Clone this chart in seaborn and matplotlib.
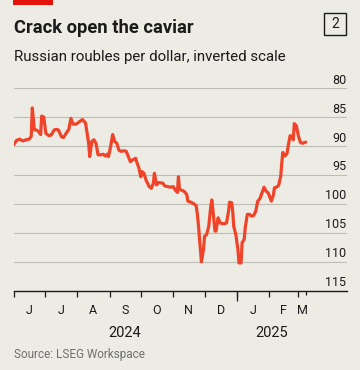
import matplotlib
matplotlib.use("Agg")
import numpy as np
import pandas as pd
import matplotlib.pyplot as plt
import seaborn as sns
from matplotlib import transforms
from matplotlib.patches import Rectangle

# ---------------- data ----------------
title = "Crack open the caviar"
subtitle = "Russian roubles per dollar, inverted scale"
source = "Source: LSEG Workspace"
chart_no = "2"

start_date = "2024-06-01"
day_offsets = [0, 3, 6, 9, 12, 15, 17, 18, 20, 22, 24, 26, 27, 29, 31, 34, 36, 39, 41, 43,
               46, 48, 50, 53, 55, 57, 60, 63, 66, 69, 70, 72, 73, 75, 77, 79, 81, 84, 86, 88,
               90, 91, 93, 95, 97, 99, 101, 103, 106, 108, 110, 112, 114, 117, 118, 120, 122, 123, 125, 127,
               130, 132, 134, 135, 137, 139, 143, 145, 148, 150, 153, 155, 157, 158, 159, 161, 164, 166, 167, 170,
               173, 175, 176, 177, 178, 180, 182, 183, 185, 187, 189, 190, 191, 193, 194, 196, 198, 200, 202, 204,
               206, 207, 209, 210, 211, 213, 215, 216, 218, 219, 221, 222, 224, 226, 228, 230, 232, 234, 236, 238,
               240, 242, 244, 246, 247, 249, 250, 252, 254, 256, 257, 258, 260, 262, 263, 265, 267, 268, 269, 271,
               273, 275, 277, 280]
rates = [89.8, 89.0, 88.8, 89.1, 88.9, 88.8, 88.3, 83.4, 87.2, 87.2, 87.5, 88.0, 84.8, 85.0, 87.8, 88.2, 88.1, 87.2, 87.1, 87.2,
         88.4, 88.5, 87.9, 87.1, 85.2, 86.2, 86.2, 85.8, 85.4, 86.0, 87.2, 89.5, 91.8, 89.2, 88.9, 89.5, 91.5, 91.5, 91.4, 91.7,
         91.4, 91.8, 90.1, 88.0, 89.2, 89.5, 90.7, 90.9, 90.8, 90.9, 91.8, 92.7, 92.4, 92.1, 92.7, 93.7, 95.3, 94.4, 94.7, 95.9,
         97.0, 97.3, 96.4, 94.7, 96.7, 96.3, 96.4, 96.9, 97.0, 97.1, 97.0, 97.6, 98.0, 95.3, 97.5, 97.6, 97.9, 98.4, 99.5, 99.7,
         100.0, 100.3, 101.6, 103.3, 105.6, 110.0, 107.9, 105.6, 105.3, 103.9, 100.4, 99.3, 101.0, 104.7, 104.7, 102.4, 103.3, 103.4, 103.4, 103.3,
         101.3, 99.7, 99.8, 101.3, 103.9, 105.3, 107.9, 110.2, 110.2, 106.7, 106.1, 104.1, 101.8, 101.8, 102.1, 102.0, 101.3, 99.5, 99.1, 98.1,
         97.1, 97.8, 98.1, 99.0, 99.5, 98.4, 97.2, 97.1, 96.8, 95.2, 92.9, 91.1, 91.7, 91.3, 90.1, 88.2, 88.3, 88.9, 86.1, 86.5,
         88.3, 89.4, 89.5, 89.3]

y_ticks = [80, 85, 90, 95, 100, 105, 110, 115]
y_tick_labels = ["80", "85", "90", "95", "100", "105", "110", "115"]
month_starts = ["2024-06-01", "2024-07-01", "2024-08-01", "2024-09-01", "2024-10-01", "2024-11-01",
                "2024-12-01", "2025-01-01", "2025-02-01", "2025-03-01"]
month_labels = ["J", "J", "A", "S", "O", "N", "D", "J", "F", "M"]
year_labels = ["2024", "2025"]
year_bounds = ["2024-06-01", "2025-01-01"]
x_end = "2025-04-16"

# ---------------- style ----------------
W, H = 360, 370
BG = "#ECEBE4"
LINE = "#F0442A"
DARK = "#1A1A1A"
GRID = "#BDBCB5"

sns.set_theme(style="white")
plt.rcParams["font.family"] = ["Roboto", "DejaVu Sans"]

dates = pd.to_datetime(start_date) + pd.to_timedelta(day_offsets, unit="D")
df = pd.DataFrame({"date": dates, "rate": rates})

fig = plt.figure(figsize=(W / 100, H / 100), dpi=100)
fig.patch.set_facecolor(BG)

ax_left, ax_right, ax_top, ax_bot = 13.5, 346.5, 88.3, 290.7
ax = fig.add_axes([ax_left / W, 1 - ax_bot / H, (ax_right - ax_left) / W, (ax_bot - ax_top) / H])
ax.set_facecolor(BG)

sns.lineplot(data=df, x="date", y="rate", ax=ax, color=LINE, linewidth=2.3,
             solid_joinstyle="round", solid_capstyle="round", zorder=3)

ax.set_xlabel("")
ax.set_ylabel("")
for s in ["top", "left", "right"]:
    ax.spines[s].set_visible(False)
ax.spines["bottom"].set_color(DARK)
ax.spines["bottom"].set_linewidth(1.0)
ax.spines["bottom"].set_zorder(4)

# y grid + labels
ax.set_yticks(y_ticks)
ax.set_yticklabels([])
ax.tick_params(axis="y", length=0)
ax.yaxis.grid(True, color=GRID, linewidth=0.8)
ax.set_axisbelow(True)
ylab_tr = transforms.blended_transform_factory(ax.transAxes, ax.transData) + \
    transforms.ScaledTranslation(0, 4.6 / 100, fig.dpi_scale_trans)
for v, lab in zip(y_ticks, y_tick_labels):
    ax.text(1.0, v, lab, transform=ylab_tr, ha="right", va="baseline", fontsize=9, color=DARK)

# x ticks
ms = pd.to_datetime(month_starts)
ax.set_xticks(ms)
ax.set_xticklabels([])
ax.tick_params(axis="x", which="major", length=4.0, width=0.9, color=DARK, direction="out", bottom=True)
ax.xaxis.grid(False)

data_end = df["date"].iloc[-1]
xb = transforms.blended_transform_factory(ax.transData, ax.transAxes)
ax_h = ax_bot - ax_top
# long year-boundary tick and short end-of-data tick
ax.plot([pd.Timestamp("2025-01-01")] * 2, [0, -10.7 / ax_h], transform=xb, clip_on=False,
        color=DARK, lw=0.9, solid_capstyle="butt")
ax.plot([data_end] * 2, [0, -4.0 / ax_h], transform=xb, clip_on=False,
        color=DARK, lw=0.9, solid_capstyle="butt")

bounds = list(ms) + [data_end]
mon_tr = xb + transforms.ScaledTranslation(0, -23.0 / 100, fig.dpi_scale_trans)
for i, lab in enumerate(month_labels):
    mid = bounds[i] + (bounds[i + 1] - bounds[i]) / 2
    ax.text(mid, 0, lab, transform=mon_tr, ha="center", va="baseline", fontsize=9, color=DARK)

yb = list(pd.to_datetime(year_bounds)) + [data_end]
yr_tr = xb + transforms.ScaledTranslation(0, -46.0 / 100, fig.dpi_scale_trans)
for i, lab in enumerate(year_labels):
    mid = yb[i] + (yb[i + 1] - yb[i]) / 2
    ax.text(mid, 0, lab, transform=yr_tr, ha="center", va="baseline", fontsize=10.5, color=DARK)

ax.set_xlim(pd.Timestamp(start_date), pd.Timestamp(x_end))
ax.set_ylim(115, 80)

# ---------------- header / footer ----------------
def px(x, y):
    return x / W, 1 - y / H

t_title = fig.text(*px(14, 33), title, fontsize=14, fontweight="bold", color=DARK, ha="left", va="baseline",
                   family=["Liberation Sans Narrow", "Roboto", "DejaVu Sans"])
t_sub = fig.text(*px(14, 61), subtitle, fontsize=10, color=DARK, ha="left", va="baseline")
t_src = fig.text(*px(14, 358.3), source, fontsize=8.5, color="#707070", ha="left", va="baseline")

fig.canvas.draw()
r = fig.canvas.get_renderer()
for t, target in [(t_title, 180), (t_sub, 272), (t_src, 130)]:
    w = t.get_window_extent(r).width
    t.set_fontsize(t.get_fontsize() * target / w)

fig.patches.append(Rectangle(px(13.3, 5.2), 40 / W, 5.2 / H, transform=fig.transFigure,
                             facecolor="#E3120B", edgecolor="none"))
fig.patches.append(Rectangle(px(324.3, 35), 21.7 / W, 21.7 / H, transform=fig.transFigure,
                             facecolor="none", edgecolor=DARK, linewidth=1.0))
fig.text(*px(335.2, 24.2), chart_no, fontsize=10, color=DARK, ha="center", va="center")

fig.savefig("out.png", dpi=100, facecolor=BG)
